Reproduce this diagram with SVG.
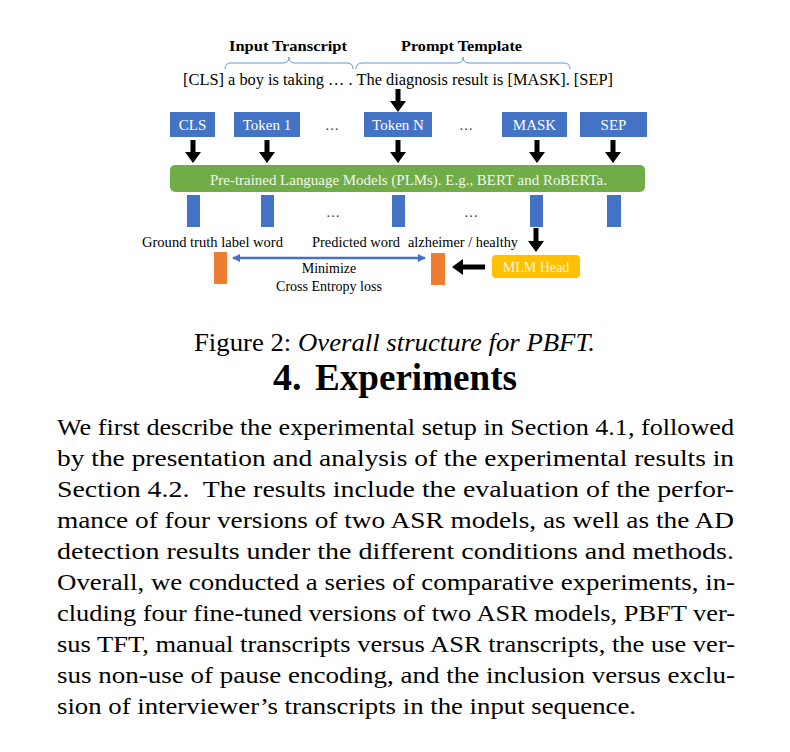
<svg xmlns="http://www.w3.org/2000/svg" width="790" height="752" viewBox="0 0 790 752" font-family="'Liberation Serif', Tinos, 'Times New Roman', Times, 'Nimbus Roman', serif">
<defs>
<style>
.hdr{font-weight:bold;font-size:15.5px}
.sent{font-size:16.5px}
.tok{fill:#4472C4}
.tl{font-size:15px;fill:#fff;text-anchor:middle}
.bar{fill:#4472C4}
.ob{fill:#ED7D31}
.lbl{font-size:14px}
.dots{font-size:14px;fill:#333;text-anchor:middle}
.blk{fill:#000}
.brace{fill:none;stroke:#5B9BD5;stroke-width:1}
.para{font-size:23px}
</style>
<marker id="ah" viewBox="0 0 10 10" refX="9" refY="5" markerWidth="3.2" markerHeight="3.2" orient="auto-start-reverse">
<path d="M0,0 L10,5 L0,10 z" fill="#4472C4"/>
</marker>
</defs>
<rect width="790" height="752" fill="#fff"/>

<g id="headers">
<text class="hdr" x="229" y="51" textLength="118" lengthAdjust="spacingAndGlyphs">Input Transcript</text>
<text class="hdr" x="401" y="51" textLength="121" lengthAdjust="spacingAndGlyphs">Prompt Template</text>
<path class="brace" d="M225,69 Q225,63 231,63 L283,63 Q289,63 289,57 Q289,63 295,63 L347,63 Q353,63 353,69"/>
<path class="brace" d="M356,69 Q356,63 362,63 L457,63 Q463,63 463,57 Q463,63 469,63 L564,63 Q570,63 570,69"/>
</g>

<g id="sentence">
<text class="sent" x="183" y="85" textLength="430" lengthAdjust="spacingAndGlyphs">[CLS] a boy is taking … . The diagnosis result is [MASK]. [SEP]</text>
</g>

<g id="tok-cls"><rect class="tok" x="170" y="112" width="45" height="25"/><text class="tl" x="192.5" y="130">CLS</text></g>
<g id="tok-1"><rect class="tok" x="234" y="112" width="66" height="25"/><text class="tl" x="267" y="130">Token 1</text></g>
<g id="tok-n"><rect class="tok" x="364" y="112" width="68" height="25"/><text class="tl" x="398" y="130">Token N</text></g>
<g id="tok-mask"><rect class="tok" x="502" y="112" width="65" height="25"/><text class="tl" x="534.5" y="130">MASK</text></g>
<g id="tok-sep"><rect class="tok" x="580" y="112" width="67" height="25"/><text class="tl" x="613.5" y="130">SEP</text></g>
<g id="dots">
<text class="dots" x="332" y="130">…</text>
<text class="dots" x="466" y="130">…</text>
<text class="dots" x="333" y="217">…</text>
<text class="dots" x="471" y="217">…</text>
</g>

<g id="plm">
<rect x="170" y="165" width="475" height="27" rx="5" fill="#70AD47"/>
<text x="210" y="185" font-size="15.5" style="fill:#F0F7EA" textLength="397" lengthAdjust="spacingAndGlyphs">Pre-trained Language Models (PLMs). E.g., BERT and RoBERTa.</text>
</g>

<g id="outputs">
<rect class="bar" x="187" y="195" width="13" height="32"/>
<rect class="bar" x="261" y="195" width="13" height="32"/>
<rect class="bar" x="392" y="195" width="13" height="32"/>
<rect class="bar" x="530" y="195" width="13" height="32"/>
<rect class="bar" x="607" y="195" width="14" height="32"/>
</g>

<g id="labels">
<text class="lbl" x="142" y="247" textLength="141" lengthAdjust="spacingAndGlyphs">Ground truth label word</text>
<text class="lbl" x="312" y="247" textLength="88" lengthAdjust="spacingAndGlyphs">Predicted word</text>
<text class="lbl" x="408" y="247" textLength="110" lengthAdjust="spacingAndGlyphs">alzheimer / healthy</text>
<text class="lbl" x="329" y="273" text-anchor="middle">Minimize</text>
<text class="lbl" x="329" y="291" text-anchor="middle">Cross Entropy loss</text>
</g>

<g id="gt-word"><rect class="ob" x="214" y="252" width="13" height="32"/></g>
<g id="pred-word"><rect class="ob" x="431" y="253" width="14" height="32"/></g>
<g id="mlm-head">
<rect x="492" y="255" width="88" height="23" rx="4" fill="#FFC000"/>
<text x="536" y="272" font-size="14" text-anchor="middle" style="fill:#FFF4D6">MLM Head</text>
</g>

<g id="connectors">
<path class="blk" d="M395.5,89 H400.5 V101 H406 L398,112 L390,101 H395.5 Z"/>
<path class="blk" d="M190.5,140 H195.5 V152 H201 L193,163 L185,152 H190.5 Z"/>
<path class="blk" d="M264.5,140 H269.5 V152 H275 L267,163 L259,152 H264.5 Z"/>
<path class="blk" d="M395.5,140 H400.5 V152 H406 L398,163 L390,152 H395.5 Z"/>
<path class="blk" d="M534.5,140 H539.5 V152 H545 L537,163 L529,152 H534.5 Z"/>
<path class="blk" d="M610.5,140 H615.5 V152 H621 L613,163 L605,152 H610.5 Z"/>
<path class="blk" d="M533.5,228 H538.5 V241 H544 L536,252 L528,241 H533.5 Z"/>
<path class="blk" d="M485,264.5 V269.5 H463 V275 L452,267 L463,259 V264.5 Z"/>
<line x1="233" y1="258" x2="425" y2="258" stroke="#4472C4" stroke-width="2.5" marker-start="url(#ah)" marker-end="url(#ah)"/>
</g>

<g id="caption">
<text x="194" y="351" font-size="25" textLength="401" lengthAdjust="spacingAndGlyphs">Figure 2: <tspan font-style="italic">Overall structure for PBFT.</tspan></text>
<text x="273" y="390" font-size="38" font-weight="bold">4.</text>
<text x="315" y="390" font-size="38" font-weight="bold" textLength="202" lengthAdjust="spacingAndGlyphs">Experiments</text>
</g>

<g id="paragraph">
<text class="para" x="57" y="435" textLength="677" lengthAdjust="spacingAndGlyphs">We first describe the experimental setup in Section 4.1, followed</text>
<text class="para" x="57" y="466" textLength="677" lengthAdjust="spacingAndGlyphs">by the presentation and analysis of the experimental results in</text>
<text class="para" x="57" y="497" textLength="677" lengthAdjust="spacingAndGlyphs">Section 4.2.&#160; The results include the evaluation of the perfor-</text>
<text class="para" x="57" y="528" textLength="677" lengthAdjust="spacingAndGlyphs">mance of four versions of two ASR models, as well as the AD</text>
<text class="para" x="57" y="559" textLength="677" lengthAdjust="spacingAndGlyphs">detection results under the different conditions and methods.</text>
<text class="para" x="57" y="590" textLength="678" lengthAdjust="spacingAndGlyphs">Overall, we conducted a series of comparative experiments, in-</text>
<text class="para" x="57" y="621" textLength="678" lengthAdjust="spacingAndGlyphs">cluding four fine-tuned versions of two ASR models, PBFT ver-</text>
<text class="para" x="57" y="652" textLength="678" lengthAdjust="spacingAndGlyphs">sus TFT, manual transcripts versus ASR transcripts, the use ver-</text>
<text class="para" x="57" y="683" textLength="678" lengthAdjust="spacingAndGlyphs">sus non-use of pause encoding, and the inclusion versus exclu-</text>
<text class="para" x="57" y="714" textLength="579" lengthAdjust="spacingAndGlyphs">sion of interviewer’s transcripts in the input sequence.</text>
</g>
</svg>
